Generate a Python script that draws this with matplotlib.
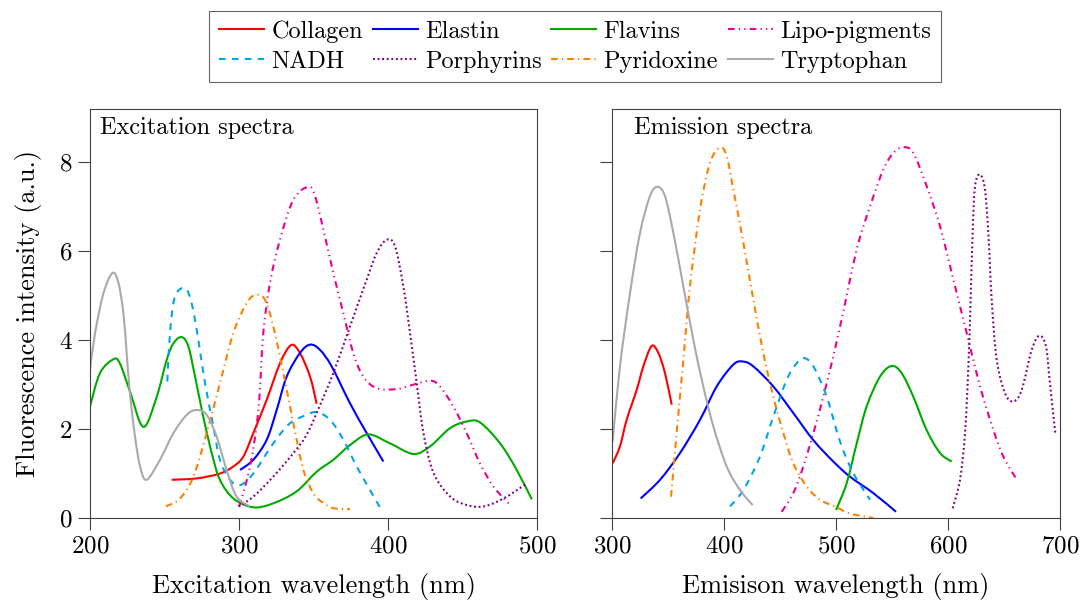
import matplotlib
matplotlib.use("Agg")
import matplotlib.pyplot as plt
import numpy as np
from matplotlib.lines import Line2D
from matplotlib.patches import PathPatch
from matplotlib.path import Path

# ---- data (wavelength nm, intensity a.u.) ----
EXC_COLLAGEN_X = [254.8, 271.6, 287.2, 296.2, 302.9, 309.6, 318.6, 327.5, 335.0, 340.9, 347.7, 352.1]
EXC_COLLAGEN_Y = [0.86, 0.89, 1.00, 1.16, 1.38, 1.91, 2.66, 3.48, 3.89, 3.71, 3.18, 2.57]
EXC_ELASTIN_X = [300.7, 309.6, 318.6, 325.3, 332.0, 340.9, 347.7, 354.4, 362.2, 374.5, 385.7, 396.9]
EXC_ELASTIN_Y = [1.08, 1.31, 1.76, 2.43, 3.18, 3.71, 3.90, 3.78, 3.41, 2.58, 1.91, 1.27]
EXC_FLAVINS_X = [200.0, 206.7, 215.7, 220.0, 226.8, 235.8, 244.7, 251.5, 256.0, 261.5, 266.0, 270.5,
                 276.0, 281.7, 287.2, 296.2, 309.6, 323.0, 338.7, 352.1, 363.3, 374.5, 386.8, 401.3,
                 417.0, 428.2, 441.6, 452.8, 461.7, 475.2, 486.4, 496.5]
EXC_FLAVINS_Y = [2.51, 3.26, 3.57, 3.48, 2.85, 2.05, 2.72, 3.56, 3.93, 4.07, 3.86, 3.18,
                 2.28, 1.46, 0.86, 0.44, 0.24, 0.33, 0.60, 1.04, 1.31, 1.64, 1.88, 1.68,
                 1.44, 1.61, 2.02, 2.17, 2.15, 1.68, 1.08, 0.42]
EXC_LIPO_X = [300.2, 307.4, 313.0, 316.3, 320.8, 327.5, 336.5, 346.5, 351.0, 356.6, 363.3, 370.0,
              376.7, 383.4, 392.4, 405.8, 417.0, 428.2, 434.9, 443.8, 452.8, 461.7, 470.7, 481.4]
EXC_LIPO_Y = [0.26, 1.16, 2.43, 4.16, 5.29, 6.26, 7.16, 7.45, 7.24, 6.49, 5.51, 4.61,
              3.71, 3.18, 2.92, 2.90, 3.00, 3.09, 2.96, 2.51, 1.91, 1.23, 0.71, 0.31]
EXC_NADH_X = [251.9, 253.7, 257.0, 263.8, 268.2, 272.7, 277.2, 282.8, 287.2, 293.9, 300.7, 309.6,
              323.0, 334.2, 345.4, 352.1, 361.1, 370.0, 379.0, 387.9, 394.6]
EXC_NADH_Y = [3.07, 4.16, 4.98, 5.17, 4.83, 4.01, 3.03, 2.06, 1.31, 0.86, 0.74, 1.00,
              1.68, 2.13, 2.32, 2.38, 2.21, 1.76, 1.16, 0.63, 0.24]
EXC_PORPH_X = [299.6, 309.6, 323.0, 336.5, 345.0, 352.1, 363.3, 374.5, 385.7, 392.4, 399.1, 404.7,
               410.3, 414.8, 419.3, 423.8, 430.6, 441.8, 453.0, 464.2, 477.6, 493.3]
EXC_PORPH_Y = [0.26, 0.48, 0.93, 1.46, 1.85, 2.36, 3.26, 4.31, 5.36, 5.96, 6.26, 6.11,
               5.21, 4.16, 3.03, 1.91, 1.01, 0.48, 0.29, 0.26, 0.44, 0.78]
EXC_PYRID_X = [251.0, 260.4, 269.4, 278.3, 287.2, 296.2, 305.1, 311.4, 317.4, 323.0, 329.8, 336.5,
               343.2, 349.9, 356.0, 363.3, 374.5]
EXC_PYRID_Y = [0.26, 0.44, 0.93, 1.91, 3.03, 4.16, 4.83, 5.02, 4.91, 4.31, 3.26, 2.13,
               1.08, 0.56, 0.35, 0.22, 0.20]
EXC_TRYPT_X = [200.0, 203.4, 209.0, 215.0, 219.0, 222.4, 224.6, 226.8, 230.2, 233.6, 238.0, 247.0,
               256.0, 264.9, 271.6, 278.3, 285.0, 291.7, 298.4, 307.4]
EXC_TRYPT_Y = [3.33, 4.16, 5.05, 5.51, 5.30, 4.61, 3.71, 2.81, 1.83, 1.16, 0.86, 1.31,
               1.91, 2.32, 2.43, 2.32, 1.83, 1.08, 0.48, 0.26]

EMI_COLLAGEN_X = [300.6, 307.1, 313.1, 322.0, 328.0, 335.4, 341.4, 347.3, 353.3]
EMI_COLLAGEN_Y = [1.23, 1.61, 2.21, 2.88, 3.41, 3.87, 3.71, 3.26, 2.55]
EMI_ELASTIN_X = [325.6, 342.9, 360.7, 378.6, 393.5, 408.3, 416.7, 426.2, 444.0, 461.9, 479.8, 497.6,
                 512.5, 533.3, 553.6]
EMI_ELASTIN_Y = [0.44, 0.86, 1.46, 2.21, 2.96, 3.45, 3.52, 3.41, 2.96, 2.36, 1.75, 1.27,
                 0.93, 0.56, 0.14]
EMI_FLAVINS_X = [500.0, 509.5, 518.5, 527.4, 539.3, 549.7, 558.6, 569.0, 580.9, 592.9, 603.3]
EMI_FLAVINS_Y = [0.18, 0.78, 1.68, 2.51, 3.18, 3.42, 3.26, 2.73, 1.98, 1.46, 1.27]
EMI_LIPO_X = [451.5, 461.9, 470.8, 479.8, 491.7, 504.0, 518.5, 530.4, 542.3, 551.2, 560.1, 569.0,
              581.0, 592.9, 604.8, 616.7, 628.6, 640.5, 649.4, 660.7]
EMI_LIPO_Y = [0.14, 0.56, 1.16, 1.91, 3.03, 4.35, 6.04, 7.01, 7.84, 8.21, 8.34, 8.21,
              7.46, 6.56, 5.36, 4.16, 2.96, 1.98, 1.38, 0.89]
EMI_NADH_X = [405.4, 417.3, 432.1, 444.0, 456.0, 464.9, 471.4, 479.8, 491.7, 503.6, 515.5, 530.4]
EMI_NADH_Y = [0.26, 0.63, 1.38, 2.28, 3.11, 3.48, 3.60, 3.41, 2.73, 1.72, 1.01, 0.41]
EMI_PORPH_X = [604.2, 610.7, 615.2, 618.2, 620.2, 622.0, 624.1, 628.6, 633.0, 636.0, 639.0, 643.5,
               650.9, 658.3, 665.8, 674.7, 681.5, 687.5, 691.0, 695.8]
EMI_PORPH_Y = [0.22, 0.86, 1.91, 3.41, 4.91, 6.41, 7.46, 7.73, 7.39, 6.41, 4.91, 3.56,
               2.81, 2.62, 2.88, 3.78, 4.10, 3.86, 3.03, 1.91]
EMI_PYRID_X = [352.7, 357.7, 363.7, 369.6, 378.6, 387.5, 396.4, 402.4, 408.3, 417.3, 426.2, 435.1,
               444.0, 453.0, 461.9, 473.8, 485.7, 499.1, 512.5, 533.3]
EMI_PYRID_Y = [0.48, 1.91, 3.56, 5.21, 6.94, 7.99, 8.33, 8.14, 7.39, 6.19, 4.91, 3.71,
               2.73, 1.91, 1.23, 0.71, 0.41, 0.26, 0.10, 0.00]
EMI_TRYPT_X = [300.6, 307.1, 316.1, 325.0, 333.9, 340.5, 347.3, 354.8, 363.7, 372.6, 381.5, 390.5,
               402.4, 414.3, 425.6]
EMI_TRYPT_Y = [1.72, 3.41, 5.06, 6.41, 7.24, 7.45, 7.24, 6.41, 5.21, 4.01, 2.96, 2.06,
               1.16, 0.63, 0.29]

NAMES = ["Collagen", "Elastin", "Flavins", "Lipo-pigments",
         "NADH", "Porphyrins", "Pyridoxine", "Tryptophan"]

EXCITATION = [
    (EXC_COLLAGEN_X, EXC_COLLAGEN_Y), (EXC_ELASTIN_X, EXC_ELASTIN_Y),
    (EXC_FLAVINS_X, EXC_FLAVINS_Y), (EXC_LIPO_X, EXC_LIPO_Y),
    (EXC_NADH_X, EXC_NADH_Y), (EXC_PORPH_X, EXC_PORPH_Y),
    (EXC_PYRID_X, EXC_PYRID_Y), (EXC_TRYPT_X, EXC_TRYPT_Y),
]
EMISSION = [
    (EMI_COLLAGEN_X, EMI_COLLAGEN_Y), (EMI_ELASTIN_X, EMI_ELASTIN_Y),
    (EMI_FLAVINS_X, EMI_FLAVINS_Y), (EMI_LIPO_X, EMI_LIPO_Y),
    (EMI_NADH_X, EMI_NADH_Y), (EMI_PORPH_X, EMI_PORPH_Y),
    (EMI_PYRID_X, EMI_PYRID_Y), (EMI_TRYPT_X, EMI_TRYPT_Y),
]

# ---- styling ----
LW = 1.5
STYLES = {
    "Collagen": {"color": "#FF0000", "linestyle": "-"},
    "Elastin": {"color": "#0000FF", "linestyle": "-"},
    "Flavins": {"color": "#00AA00", "linestyle": "-"},
    "Lipo-pigments": {"color": "#EC008C", "linestyle": (0, (3.2, 2.0, 0.6, 2.0, 0.6, 2.0))},
    "NADH": {"color": "#00A6E6", "linestyle": (0, (3.2, 3.0))},
    "Porphyrins": {"color": "#800080", "linestyle": (0, (0.9, 1.3))},
    "Pyridoxine": {"color": "#FF8000", "linestyle": (0, (3.2, 2.0, 0.6, 2.0))},
    "Tryptophan": {"color": "#AAAAAA", "linestyle": "-"},
}

SPINE_COLOR = "#404040"
TICK_FS = 18
LABEL_FS = 19
TEXT_FS = 17.5
TENSION = 1.0 / 6.0


def configure_matplotlib():
    plt.rcParams.update({
        "font.family": ["cmr10", "DejaVu Serif"],
        "mathtext.fontset": "cm",
        "axes.formatter.use_mathtext": True,
        "axes.unicode_minus": False,
        "axes.linewidth": 0.8,
        "axes.edgecolor": SPINE_COLOR,
    })


def smooth_path(xs, ys):
    # cubic bezier through the read points (like pgfplots "smooth")
    pts = np.column_stack([xs, ys]).astype(float)
    n = len(pts)
    verts = [pts[0]]
    codes = [Path.MOVETO]
    for i in range(n - 1):
        p_prev = pts[max(i - 1, 0)]
        p0 = pts[i]
        p1 = pts[i + 1]
        p_next = pts[min(i + 2, n - 1)]
        c1 = p0 + (p1 - p_prev) * TENSION
        c2 = p1 - (p_next - p0) * TENSION
        verts.extend([c1, c2, p1])
        codes.extend([Path.CURVE4] * 3)
    return Path(verts, codes)


def style_axis(ax, xlim, xticks, show_ylabels):
    ax.set_xlim(*xlim)
    ax.set_ylim(0, 9.2)
    ax.set_xticks(xticks)
    ax.set_yticks([0, 2, 4, 6, 8])
    if not show_ylabels:
        ax.set_yticklabels([])
    ax.tick_params(axis="both", direction="out", length=8.5, width=0.8,
                   color=SPINE_COLOR, labelsize=TICK_FS, pad=4)


def draw_panel(ax, series):
    handles = {}
    for name, (xs, ys) in zip(NAMES, series):
        st = STYLES[name]
        patch = PathPatch(smooth_path(xs, ys), facecolor="none", edgecolor=st["color"],
                          linestyle=st["linestyle"], lw=LW, capstyle="butt")
        ax.add_patch(patch)
        handles[name] = Line2D([0], [0], color=st["color"], linestyle=st["linestyle"], lw=LW,
                               dash_capstyle="butt")
    return handles


def main():
    configure_matplotlib()
    fig = plt.figure(figsize=(10.88, 6.01), dpi=100)
    ax_exc = fig.add_axes([90 / 1088, 83 / 601, 447 / 1088, 409 / 601])
    ax_emi = fig.add_axes([612 / 1088, 83 / 601, 448 / 1088, 409 / 601])

    handles = draw_panel(ax_exc, EXCITATION)
    draw_panel(ax_emi, EMISSION)

    style_axis(ax_exc, (200, 500), [200, 300, 400, 500], True)
    style_axis(ax_emi, (300, 700), [300, 400, 500, 600, 700], False)

    ax_exc.set_xlabel("Excitation wavelength (nm)", fontsize=LABEL_FS, labelpad=11)
    ax_emi.set_xlabel("Emisison wavelength (nm)", fontsize=LABEL_FS, labelpad=11)
    ax_exc.set_ylabel("Fluorescence intensity (a.u.)", fontsize=LABEL_FS, labelpad=12)

    ax_exc.text(0.022, 0.953, "Excitation spectra", transform=ax_exc.transAxes,
                ha="left", va="center", fontsize=TEXT_FS)
    ax_emi.text(0.049, 0.953, "Emission spectra", transform=ax_emi.transAxes,
                ha="left", va="center", fontsize=TEXT_FS)

    # legend fills column-wise, so order entries to read row-wise like the reference
    order = [0, 4, 1, 5, 2, 6, 3, 7]
    leg = fig.legend(handles=[handles[NAMES[i]] for i in order],
                     labels=[NAMES[i] for i in order], ncol=4, loc="center",
                     bbox_to_anchor=(575 / 1088, 1 - 46.5 / 601), fontsize=TEXT_FS,
                     frameon=True, fancybox=False, handlelength=1.85, handletextpad=0.3,
                     columnspacing=0.4, labelspacing=0.32, borderpad=0.4,
                     borderaxespad=0.0)
    leg.get_frame().set_edgecolor(SPINE_COLOR)
    leg.get_frame().set_linewidth(0.8)

    fig.savefig("out.png", dpi=100)
    plt.close(fig)


if __name__ == "__main__":
    main()
